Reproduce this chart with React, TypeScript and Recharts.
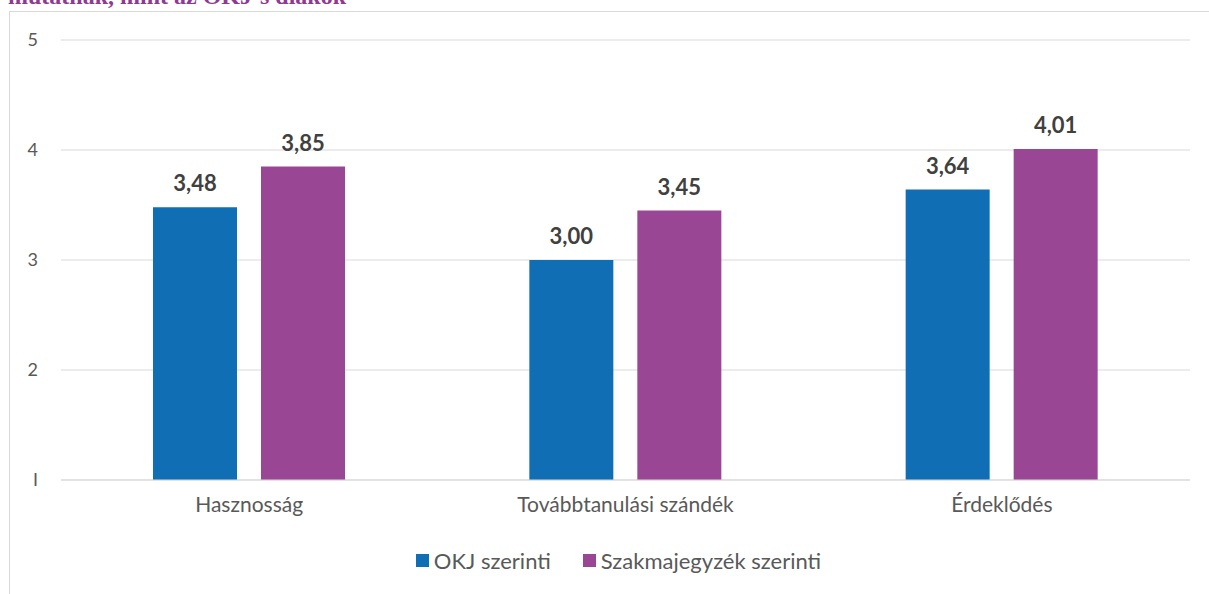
import React from "react";
import {
  BarChart,
  Bar,
  XAxis,
  YAxis,
  CartesianGrid,
  Legend,
  LabelList,
} from "recharts";

const categories = ["Hasznosság", "Továbbtanulási szándék", "Érdeklődés"];
const okjValues = [3.48, 3.0, 3.64];
const szakmaValues = [3.85, 3.45, 4.01];
const seriesNames = ["OKJ szerinti", "Szakmajegyzék szerinti"];
const seriesColors = ["#106EB5", "#994795"];
const yTicks = [1, 2, 3, 4, 5];

const chartData = categories.map((name, i) => ({
  name,
  okj: okjValues[i],
  szakma: szakmaValues[i],
}));

const FONT = "Lato, 'Noto Sans', sans-serif";

const fmt = (v: any) => Number(v).toFixed(2).replace(".", ",");

const labelStyle = {
  fill: "#404040",
  fontSize: 22,
  fontWeight: "bold",
  fontFamily: FONT,
};

function renderLegend() {
  return (
    <div
      style={{
        display: "flex",
        justifyContent: "center",
        gap: 32,
        fontFamily: FONT,
        fontSize: 22,
        color: "#595959",
        marginLeft: 38,
      }}
    >
      {seriesNames.map((n, i) => (
        <div key={n} style={{ display: "flex", alignItems: "center" }}>
          <span
            style={{
              display: "inline-block",
              width: 13,
              height: 13,
              background: seriesColors[i],
              marginRight: 5,
            }}
          />
          {n}
        </div>
      ))}
    </div>
  );
}

export default function App() {
  return (
    <div
      style={{
        position: "fixed",
        left: 0,
        top: 0,
        width: 1209,
        height: 594,
        overflow: "hidden",
        background: "#fff",
      }}
    >
      <div
        style={{
          position: "absolute",
          left: 8,
          top: -17,
          fontFamily: "'Liberation Serif', serif",
          fontWeight: "bold",
          fontSize: 24,
          color: "#8E3A93",
          whiteSpace: "nowrap",
        }}
      >
        mutatnak, mint az OKJ-s diákok
      </div>
      <div
        style={{
          position: "absolute",
          left: 9,
          top: 11,
          width: 1220,
          height: 620,
          border: "1px solid #d9d9d9",
        }}
      />
      <div style={{ position: "absolute", left: 0, top: 0 }}>
        <BarChart
          width={1209}
          height={594}
          data={chartData}
          margin={{ top: 40, right: 19, left: 9, bottom: 20 }}
          barGap={24}
          barCategoryGap={92}
        >
          <CartesianGrid vertical={false} stroke="#d9d9d9" />
          <XAxis
            dataKey="name"
            axisLine={{ stroke: "#d9d9d9" }}
            tickLine={false}
            height={67}
            tickMargin={11}
            tick={{ fill: "#595959", fontSize: 21, fontFamily: FONT }}
          />
          <YAxis
            domain={[1, 5]}
            ticks={yTicks}
            width={52}
            axisLine={false}
            tickLine={false}
            tickMargin={17}
            tick={{ fill: "#595959", fontSize: 18, fontFamily: FONT }}
            tickFormatter={(v) => (v === 1 ? "I" : String(v))}
          />
          <Legend verticalAlign="bottom" content={renderLegend} />
          <Bar
            dataKey="okj"
            name={seriesNames[0]}
            fill={seriesColors[0]}
            isAnimationActive={false}
          >
            <LabelList
              dataKey="okj"
              position="top"
              offset={16}
              formatter={fmt}
              style={labelStyle}
            />
          </Bar>
          <Bar
            dataKey="szakma"
            name={seriesNames[1]}
            fill={seriesColors[1]}
            isAnimationActive={false}
          >
            <LabelList
              dataKey="szakma"
              position="top"
              offset={16}
              formatter={fmt}
              style={labelStyle}
            />
          </Bar>
        </BarChart>
      </div>
    </div>
  );
}
